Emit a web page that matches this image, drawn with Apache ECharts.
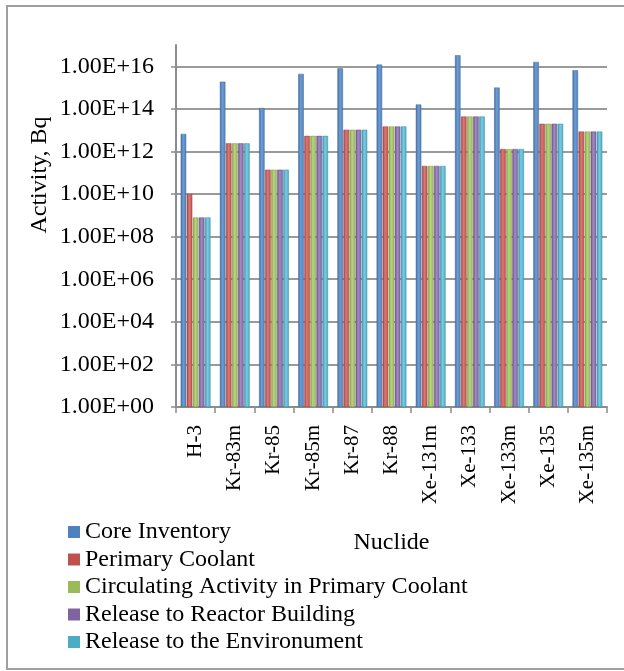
<!DOCTYPE html>
<html>
<head>
<meta charset="utf-8">
<script src="https://cdn.jsdelivr.net/npm/echarts@6/dist/echarts.min.js"></script>
<style>
  html, body { margin: 0; padding: 0; background: #fff; }
  #chart { width: 624px; height: 671px; }
</style>
</head>
<body>
<div id="chart"></div>
<script>
// Nuclides along the category axis
const nuclides = ['H-3', 'Kr-83m', 'Kr-85', 'Kr-85m', 'Kr-87', 'Kr-88',
  'Xe-131m', 'Xe-133', 'Xe-133m', 'Xe-135', 'Xe-135m'];

// Activity in Bq for each stage
const coreInventory     = [6.7e12, 1.9e15, 1.1e14, 4.4e15, 8.0e15, 1.2e16, 1.6e14, 3.3e16, 1.0e15, 1.6e16, 6.5e15];
const primaryCoolant    = [1.0e10, 2.4e12, 1.4e11, 5.4e12, 1.05e13, 1.5e13, 2.1e11, 4.4e13, 1.3e12, 2.0e13, 8.6e12];
const circulating       = [8.0e8, 2.4e12, 1.4e11, 5.4e12, 1.05e13, 1.5e13, 2.1e11, 4.4e13, 1.3e12, 2.0e13, 8.6e12];
const releaseBuilding   = [8.0e8, 2.4e12, 1.4e11, 5.4e12, 1.05e13, 1.5e13, 2.1e11, 4.4e13, 1.3e12, 2.0e13, 8.6e12];
const releaseEnv        = [8.0e8, 2.4e12, 1.4e11, 5.4e12, 1.05e13, 1.5e13, 2.1e11, 4.4e13, 1.3e12, 2.0e13, 8.6e12];

const seriesNames = ['Core Inventory', 'Perimary Coolant', 'Circulating Activity in Primary Coolant',
  'Release to Reactor Building', 'Release to the Environument'];

// Value-axis tick labels, one every two decades
const yTickLabels = ['1.00E+00', '1.00E+02', '1.00E+04', '1.00E+06', '1.00E+08',
  '1.00E+10', '1.00E+12', '1.00E+14', '1.00E+16'];

// [edge, highlight, base] shades per series
const palette = [
  ['#3d6da5', '#6f9bd0', '#4f81bd'],
  ['#a5403d', '#d77a77', '#c0504d'],
  ['#829f45', '#b8d382', '#9bbb59'],
  ['#684f88', '#a08bc0', '#8064a2'],
  ['#3792ab', '#7ccbdf', '#4bacc6']
];

function barFill(c) {
  return new echarts.graphic.LinearGradient(0, 0, 1, 0, [
    { offset: 0, color: c[0] },
    { offset: 0.45, color: c[1] },
    { offset: 1, color: c[2] }
  ]);
}

const FONT = '"Liberation Serif", "Times New Roman", serif';
const values = [coreInventory, primaryCoolant, circulating, releaseBuilding, releaseEnv];

const chart = echarts.init(document.getElementById('chart'), null, { renderer: 'canvas' });

chart.setOption({
  animation: false,
  backgroundColor: '#fff',
  grid: { left: 176, right: 17, top: 45, bottom: 264, containLabel: false },
  legend: {
    orient: 'vertical',
    left: 68,
    top: 520,
    padding: 0,
    itemWidth: 12,
    itemHeight: 12,
    itemGap: 3.5,
    icon: 'rect',
    textStyle: { fontFamily: FONT, fontSize: 24, lineHeight: 24, color: '#000' },
    data: seriesNames.map(function (n, k) {
      return { name: n, itemStyle: { color: palette[k][2], borderWidth: 0 } };
    })
  },
  xAxis: {
    type: 'category',
    data: nuclides,
    name: 'Nuclide',
    nameLocation: 'middle',
    nameGap: 124,
    nameTextStyle: { fontFamily: FONT, fontSize: 24, color: '#000' },
    axisLine: { lineStyle: { color: '#8c8c8c', width: 2 } },
    axisTick: { show: true, length: 6, lineStyle: { color: '#8c8c8c', width: 1.5 } },
    axisLabel: {
      rotate: 90,
      margin: 18,
      interval: 0,
      fontFamily: FONT,
      fontSize: 21,
      color: '#000'
    }
  },
  yAxis: {
    type: 'log',
    logBase: 10,
    min: 1,
    max: 1e17,
    interval: 2,
    axisLine: { show: true, lineStyle: { color: '#8c8c8c', width: 2 } },
    axisTick: { show: true, length: 5, lineStyle: { color: '#8c8c8c', width: 1.5 } },
    splitLine: { show: true, showMaxLine: false, lineStyle: { color: '#9a9a9a', width: 2 } },
    axisLabel: {
      margin: 22,
      showMaxLabel: false,
      fontFamily: FONT,
      fontSize: 24,
      color: '#000',
      formatter: function (v) {
        const e = Math.round(Math.log10(v));
        return (e % 2 === 0 && yTickLabels[e / 2]) ? yTickLabels[e / 2] : '';
      }
    }
  },
  series: seriesNames.map(function (name, k) {
    return {
      name: name,
      type: 'bar',
      data: values[k],
      barGap: '10%',
      barCategoryGap: '24%',
      itemStyle: { color: barFill(palette[k]), borderColor: palette[k][0], borderWidth: 0.5 },
      emphasis: { disabled: true }
    };
  }),
  graphic: [
    {
      type: 'rect',
      shape: { x: 7, y: 6, width: 640, height: 663 },
      style: { fill: 'none', stroke: '#a0a0a0', lineWidth: 2 },
      silent: true
    },
    {
      type: 'text',
      x: 40,
      y: 175,
      rotation: Math.PI / 2,
      style: {
        text: 'Activity, Bq',
        font: '24px ' + FONT,
        fill: '#000',
        align: 'center',
        verticalAlign: 'middle'
      },
      silent: true
    }
  ]
});
</script>
</body>
</html>
